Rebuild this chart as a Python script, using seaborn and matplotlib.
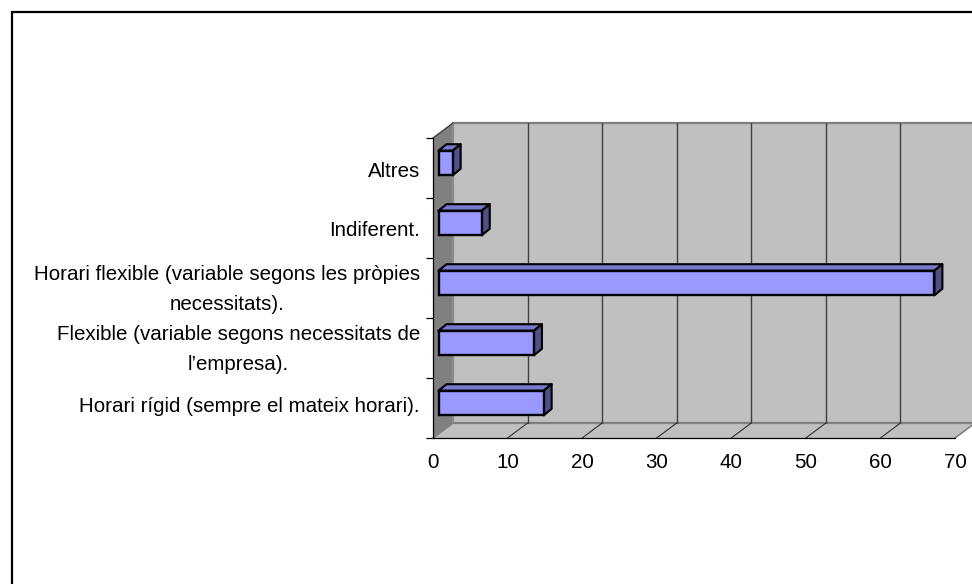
import matplotlib
matplotlib.use('Agg')
import matplotlib.pyplot as plt
import seaborn as sns
import pandas as pd
from matplotlib.lines import Line2D
from matplotlib.patches import Polygon
from matplotlib.transforms import Affine2D, IdentityTransform

# Values
categories = ['Altres',
              'Indiferent.',
              'Horari flexible (variable segons les pròpies\nnecessitats).',
              'Flexible (variable segons necessitats de\nl’empresa).',
              'Horari rígid (sempre el mateix horari).']
values = [1.9, 5.8, 66.5, 12.8, 14.1]
x_ticks = [0, 10, 20, 30, 40, 50, 60, 70]

W, H = 972, 584

sns.set_style('white')
plt.rcParams['font.family'] = ['Liberation Sans', 'DejaVu Sans']

df = pd.DataFrame({'cat': categories, 'val': values})

fig = plt.figure(figsize=(W / 100, H / 100), dpi=100)
ax = fig.add_axes([433 / W, (H - 438) / H, 522 / W, 300 / H])
ax.patch.set_alpha(0)

sns.barplot(data=df, y='cat', x='val', color='#9999FF', saturation=1, width=0.41,
            edgecolor='black', linewidth=1.7, orient='h', ax=ax, zorder=5)
ax.set_xlim(0, 70)
ax.set_ylim(4.5, -0.5)
ax.set_xlabel('')
ax.set_ylabel('')

# 3D look: depth of the box and of the bars, in pixels
depth_x, depth_y = 20, 15
bar_x, bar_y = 8, 6.5
shift_x, shift_y = 5.5, 5


def pt(x, y, dx=0, dy=0):
    p = ax.transData.transform((x, y))
    return (p[0] + dx, p[1] + dy)


def face(points, color, edge='none', lw=0, z=1):
    ax.add_patch(Polygon(points, closed=True, facecolor=color, edgecolor=edge, linewidth=lw,
                         transform=IdentityTransform(), clip_on=False, zorder=z, joinstyle='round'))


def seg(a, b, color, lw, z=2):
    ax.add_line(Line2D([a[0], b[0]], [a[1], b[1]], color=color, linewidth=lw,
                       transform=IdentityTransform(), clip_on=False, zorder=z))


y_bot, y_top = 4.5, -0.5
# back wall
face([pt(0, y_bot, depth_x, depth_y), pt(70, y_bot, depth_x, depth_y),
      pt(70, y_top, depth_x, depth_y), pt(0, y_top, depth_x, depth_y)], '#C0C0C0')
# left wall
face([pt(0, y_bot), pt(0, y_bot, depth_x, depth_y), pt(0, y_top, depth_x, depth_y), pt(0, y_top)], '#808080')
# floor
face([pt(0, y_bot), pt(70, y_bot), pt(70, y_bot, depth_x, depth_y), pt(0, y_bot, depth_x, depth_y)], '#C0C0C0')

seg(pt(0, y_top, depth_x, depth_y), pt(70, y_top, depth_x, depth_y), '#808080', 1.6)
seg(pt(0, y_bot, depth_x, depth_y), pt(70, y_bot, depth_x, depth_y), '#808080', 1.6)
seg(pt(0, y_top, depth_x, depth_y), pt(0, y_bot, depth_x, depth_y), '#8C8C8C', 1.6)
seg(pt(0, y_bot), pt(0, y_bot, depth_x, depth_y), '#808080', 1.2)
seg(pt(0, y_top), pt(0, y_top, depth_x, depth_y), '#404040', 1.0)
seg(pt(70, y_bot), pt(70, y_bot, depth_x, depth_y), '#808080', 1.2)

# grid lines on wall and floor
for t in x_ticks[1:-1]:
    seg(pt(t, y_top, depth_x, depth_y), pt(t, y_bot, depth_x, depth_y), '#404040', 1.0)
    seg(pt(t, y_bot), pt(t, y_bot, depth_x, depth_y), '#303030', 0.8)

# bars: shift seaborn's rectangles, then add top and side faces
bar_shift = ax.transData + Affine2D().translate(shift_x, shift_y)
for bar in ax.patches[:len(values)]:
    x0, y0 = bar.get_x(), bar.get_y()
    x1, y1 = x0 + bar.get_width(), y0 + bar.get_height()
    top = min(y0, y1)
    bottom = max(y0, y1)
    bar.set_transform(bar_shift)
    bar.set_clip_on(False)
    sx, sy = shift_x, shift_y
    face([pt(x0, top, sx, sy), pt(x1, top, sx, sy), pt(x1, top, sx + bar_x, sy + bar_y),
          pt(x0, top, sx + bar_x, sy + bar_y)], '#7777CC', 'black', 1.5, z=4)
    face([pt(x1, top, sx, sy), pt(x1, bottom, sx, sy), pt(x1, bottom, sx + bar_x, sy + bar_y),
          pt(x1, top, sx + bar_x, sy + bar_y)], '#4F4F8A', 'black', 1.5, z=4)

# axes
for side in ['top', 'right']:
    ax.spines[side].set_visible(False)
for side in ['left', 'bottom']:
    ax.spines[side].set_visible(True)
    ax.spines[side].set_color('black')
    ax.spines[side].set_linewidth(0.9)
    ax.spines[side].set_zorder(6)

ax.set_xticks(x_ticks)
ax.set_yticks(range(len(categories)))
ax.set_yticklabels(categories)
ax.set_yticks([i - 0.5 for i in range(len(categories) + 1)], minor=True)
ax.tick_params(axis='x', length=5.2, width=0.9, color='black', labelsize=14.8, pad=5.5, labelcolor='black')
ax.tick_params(axis='y', which='major', length=0, labelsize=14.8, pad=9.5, labelcolor='black')
ax.tick_params(axis='y', which='minor', left=True, length=5.2, width=0.9, color='black')

# labels do not sit exactly on the category centres in the picture (pixels, up is positive)
label_nudge = [-2, -1, 6, 6, 4]
for label, nudge in zip(ax.get_yticklabels(), label_nudge):
    label.set_multialignment('center')
    label.set_linespacing(1.7)
    label.set_transform(label.get_transform() + Affine2D().translate(0, nudge))

# outer frame: only left and top sides are visible in the picture
fig.add_artist(Line2D([12 / W, 12 / W, 1], [0, (H - 11.5) / H, (H - 11.5) / H], color='black', linewidth=1.6,
                      transform=fig.transFigure, solid_joinstyle='miter'))

fig.savefig('out.png', dpi=100)
